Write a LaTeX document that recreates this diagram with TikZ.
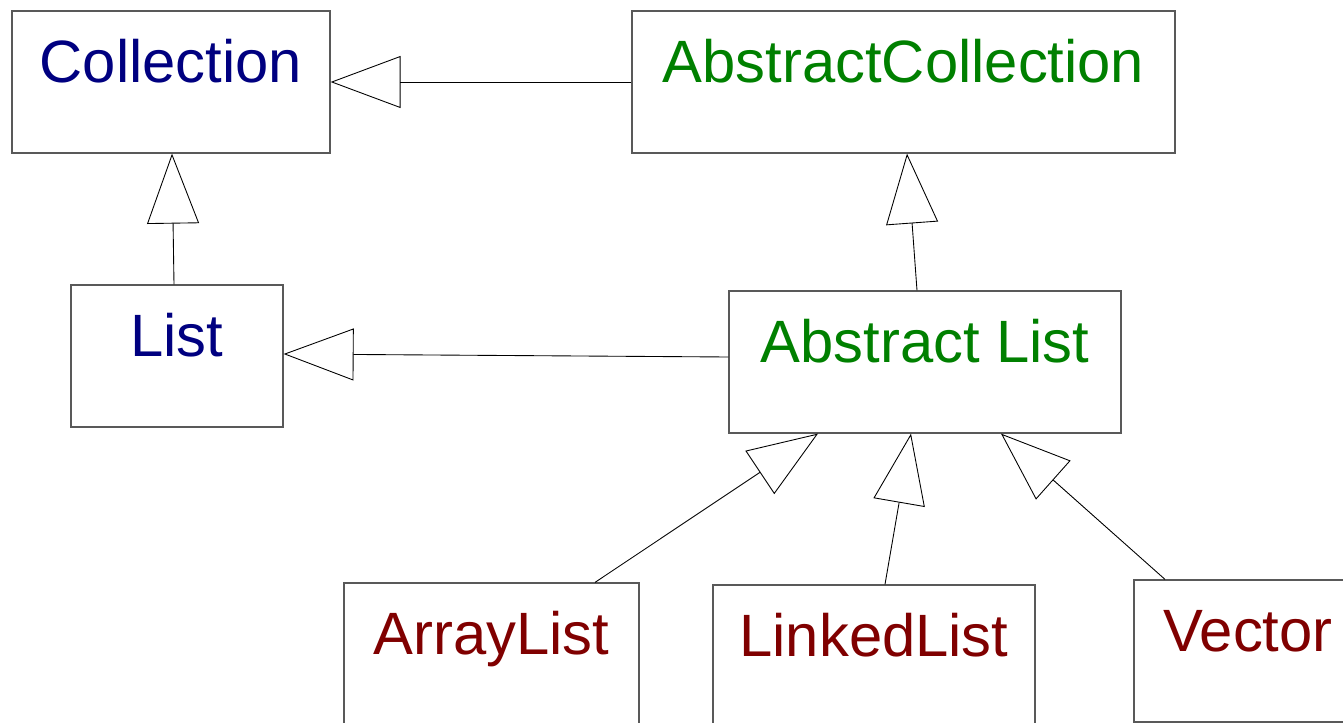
\documentclass[tikz,border=0pt]{standalone}
\usepackage{fontspec}
\setmainfont{Liberation Sans}
\usetikzlibrary{arrows.meta}

\definecolor{ifaceblue}{RGB}{0,0,128}
\definecolor{absgreen}{RGB}{0,128,0}
\definecolor{concred}{RGB}{128,0,0}

\begin{document}
\begin{tikzpicture}[
  cls/.style={draw=black!65, line width=0.7pt, rectangle, inner sep=0pt,
    text height=1.43cm, text depth=1.41cm,
    font=\fontsize{34}{40}\selectfont},
  gen/.style={line width=0.5pt, -{Triangle[open, length=1.4cm, width=1.04cm]}}
]
\useasboundingbox (0,0) rectangle (26.86,-14.46);

% Interfaces
\node[cls, text=ifaceblue, minimum width=6.36cm] (coll) at (3.42,-1.64) {Collection};
\node[cls, text=ifaceblue, minimum width=4.24cm] (list) at (3.54,-7.12) {List};

% Abstract classes
\node[cls, text=absgreen, minimum width=10.86cm] (abscoll) at (18.07,-1.64) {AbstractCollection};
\node[cls, text=absgreen, minimum width=7.84cm] (abslist) at (18.5,-7.24) {Abstract List};

% Concrete classes
\node[cls, text=concred, minimum width=5.9cm] (arraylist) at (9.83,-13.08) {ArrayList};
\node[cls, text=concred, minimum width=6.44cm] (linkedlist) at (17.48,-13.12) {LinkedList};
\node[cls, text=concred, minimum width=4.56cm] (vector) at (24.96,-13.02) {Vector};

% Generalisation arrows
\draw[gen] (abscoll.west) -- (coll.east);
\draw[gen] ([xshift=-0.06cm]list.north) -- ([xshift=0.02cm]coll.south);
\draw[gen] ([yshift=0.1cm]abslist.west) -- ([yshift=0.04cm]list.east);
\draw[gen] ([xshift=-0.16cm]abslist.north) -- ([xshift=0.07cm]abscoll.south);
\draw[gen] ([xshift=2.07cm]arraylist.north) -- ([xshift=-2.14cm]abslist.south);
\draw[gen] ([xshift=0.22cm]linkedlist.north) -- ([xshift=-0.28cm]abslist.south);
\draw[gen] ([xshift=-1.66cm]vector.north) -- ([xshift=1.52cm]abslist.south);
\end{tikzpicture}
\end{document}
